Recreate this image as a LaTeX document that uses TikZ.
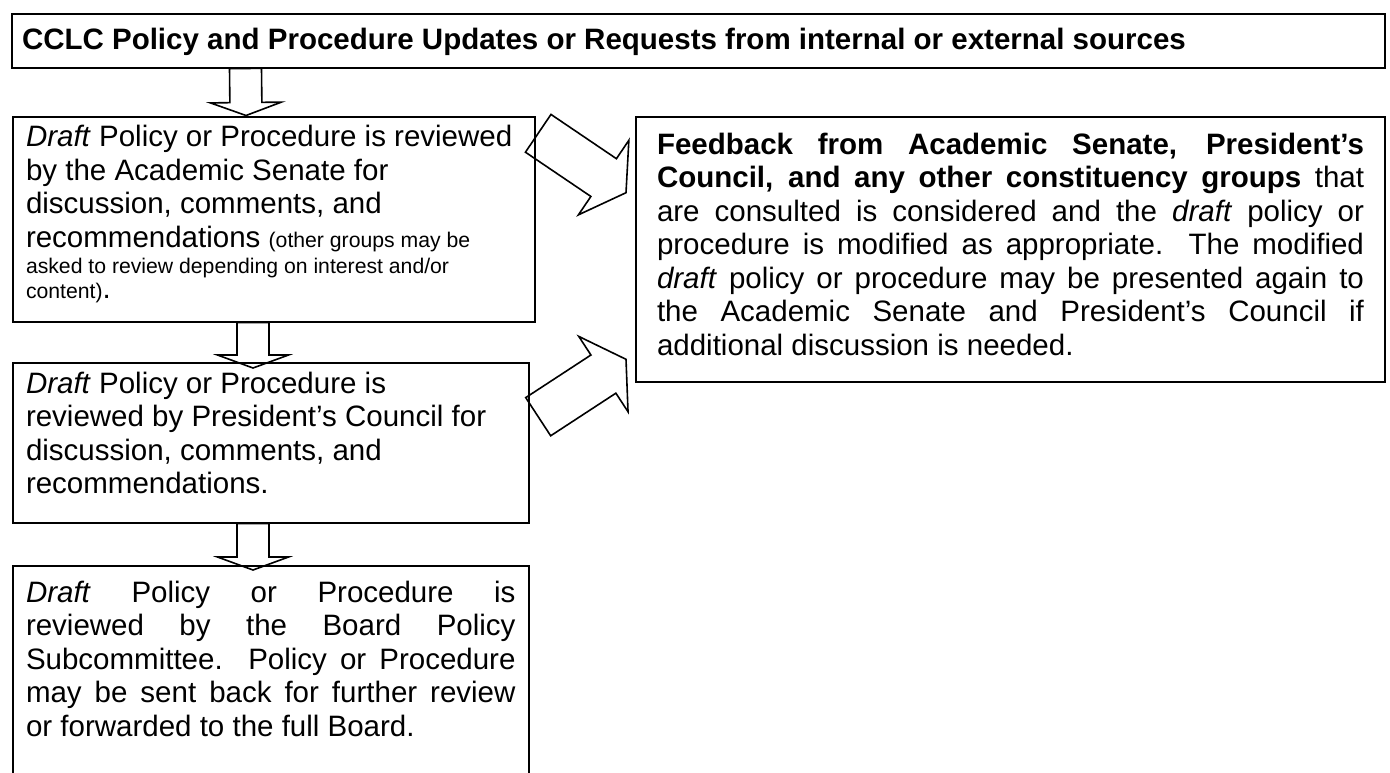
\documentclass[tikz,border=0pt]{standalone}
\usepackage{fontspec}
\setmainfont{Liberation Sans}
\usetikzlibrary{calc}

\newcommand\bodyfont{\fontsize{14.75}{16.75}\selectfont}
\newcommand\smalltxt{\fontsize{10.6}{13.35}\selectfont\spaceskip=0pt\xspaceskip=0pt\relax}
% hollow block arrow: from, to, half shaft, half head, head length
\newcommand\blockarrow[5]{%
  \coordinate (headbase) at ($(#2)!#5!(#1)$);
  \draw[arrowline] ($(#1)!#3!90:(#2)$) -- ($(headbase)!#3!90:(#2)$)
    -- ($(headbase)!#4!90:(#2)$) -- (#2) -- ($(headbase)!#4!-90:(#2)$)
    -- ($(headbase)!#3!-90:(#2)$) -- ($(#1)!#3!-90:(#2)$) -- cycle;}

\begin{document}
\begin{tikzpicture}[x=0.5pt,y=-0.5pt,
  stage/.style={draw,line width=1pt,anchor=north west,inner xsep=6.75pt,
    inner ysep=0pt,text height=15pt,font=\bodyfont},
  arrowline/.style={line width=0.8pt,line join=miter}]
  \useasboundingbox (0,0) rectangle (1390,772);
  \clip (0,0) rectangle (1390,772);
  %\draw[red] (0,0) rectangle (1390,772);
  \node[stage,text width=676.5pt,inner xsep=5pt,text height=17.75pt,text depth=9.25pt,
    align=flush left] (top) at (11,12.5)
    {\textbf{CCLC Policy and Procedure Updates or Requests from internal or external sources}};
  \node[stage,text width=247.75pt,text depth=87.5pt,align=flush left] (senate) at (11.5,115.5)
    {\textit{Draft} Policy or Procedure is reviewed\newline
     by the Academic Senate for\newline
     discussion, comments, and\newline
     recommendations {\smalltxt (other groups may be}\vspace{-3.4pt}\newline
     {\smalltxt asked to review depending on interest and/or}\vspace{-4.25pt}\newline
     {\smalltxt content)}.};
  \node[stage,text width=244.75pt,text depth=64.75pt,align=flush left] (council) at (11.5,362)
    {\textit{Draft} Policy or Procedure is\newline
     reviewed by President’s Council for\newline
     discussion, comments, and\newline
     recommendations.};
  \node[stage,text width=244.75pt,text height=18pt,text depth=122pt,align=justify] (board)
    at (11.5,565)
    {\textit{Draft} Policy or Procedure is\linebreak
     reviewed by the Board Policy\linebreak
     Subcommittee. Policy or Procedure\linebreak
     may be sent back for further review\linebreak
     or forwarded to the full Board.};
  \node[stage,text width=353.5pt,inner xsep=10.5pt,text height=18.5pt,text depth=113.75pt,
    align=justify] (feedback) at (635,116)
    {\textbf{Feedback from Academic Senate, President’s}\linebreak
     \textbf{Council, and any other constituency groups} that\linebreak
     are consulted is considered and the \textit{draft} policy or\linebreak
     procedure is modified as appropriate. The modified\linebreak
     \textit{draft} policy or procedure may be presented again to\linebreak
     the Academic Senate and President’s Council if\linebreak
     additional discussion is needed.};

  % down the left column
  \coordinate (top-out) at ([xshift=117.25pt]top.south west);
  \coordinate (senate-in) at ([xshift=117.25pt]senate.north west);
  \blockarrow{top-out}{senate-in}{8pt}{17.75pt}{6.5pt}
  \coordinate (senate-out) at ([xshift=120.75pt]senate.south west);
  \coordinate (council-in) at ([xshift=120.75pt,yshift=-3pt]council.north west);
  \blockarrow{senate-out}{council-in}{8pt}{17.75pt}{6.5pt}
  \coordinate (council-out) at ([xshift=120.75pt]council.south west);
  \coordinate (board-in) at ([xshift=120.75pt,yshift=-2.5pt]board.north west);
  \blockarrow{council-out}{board-in}{8pt}{17.75pt}{6.5pt}

  % over to the feedback box
  \coordinate (senate-side) at ([xshift=1.1pt,yshift=-8.9pt]senate.north east);
  \coordinate (feedback-in1) at ([xshift=-4.5pt,yshift=-38.35pt]feedback.north west);
  \blockarrow{senate-side}{feedback-in1}{11.4pt}{22.5pt}{13.5pt}
  \coordinate (council-side) at ([xshift=4.1pt,yshift=-27.35pt]council.north east);
  \coordinate (feedback-in2) at ([xshift=-4.5pt,yshift=11.6pt]feedback.south west);
  \blockarrow{council-side}{feedback-in2}{11.4pt}{22.5pt}{13.5pt}
\end{tikzpicture}
\end{document}
